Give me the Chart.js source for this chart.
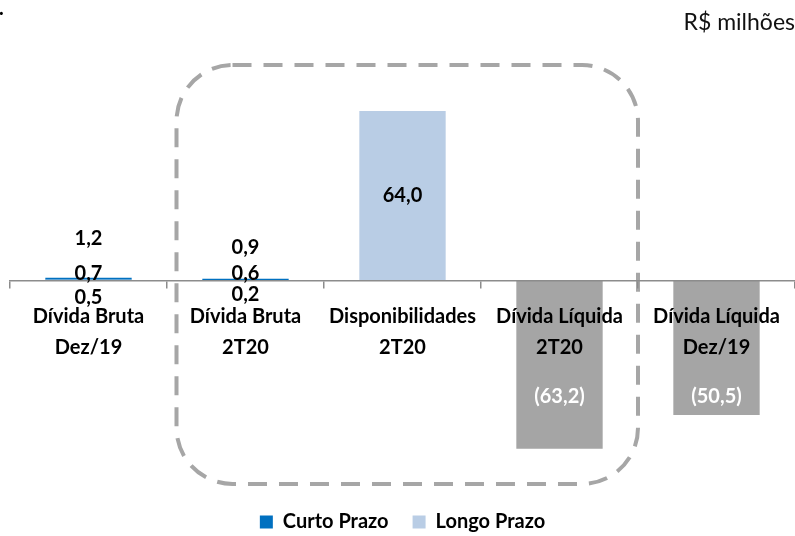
<!DOCTYPE html>
<html>
<head>
<meta charset="utf-8">
<script src="https://cdn.jsdelivr.net/npm/chart.js@4/dist/chart.umd.min.js"></script>
<style>
  html, body { margin: 0; padding: 0; background: #fff; }
  #wrap { width: 795px; height: 536px; position: relative; }
</style>
</head>
<body>
<div id="wrap"><canvas id="c"></canvas></div>
<script>
// ---- data ----
const categories = [
  ['Dívida Bruta', 'Dez/19'],
  ['Dívida Bruta', '2T20'],
  ['Disponibilidades', '2T20'],
  ['Dívida Líquida', '2T20'],
  ['Dívida Líquida', 'Dez/19']
];
const longoPrazo = [0.5, 0.24, 64.0, null, null];
const curtoPrazo = [0.7, 0.64, null, null, null];
const dividaLiquida = [null, null, null, -63.2, -50.5];
const unitLabel = 'R$ milhões';

// ---- styling ----
const FONT = 'Lato';
const C_LONGO = '#B9CDE5';
const C_CURTO = '#0070C0';
const C_GRAY = '#A5A5A5';
const AXIS_GRAY = '#8C8C8C';

const fmt = v => {
  const s = Math.abs(v).toFixed(1).replace('.', ',');
  return v < 0 ? '(' + s + ')' : s;
};

// label nudges (pixels) for the tiny stacked bars
const NUDGE = { total: [-39, -31], curto: [-4, -5], longo: [17, 14], negative: 116 };
// dashed frame around the 2T20 group
const FRAME = { fromCat: 1, toCat: 3, topVal: 81.3, bottomVal: -76.4, insetLeft: 9.5, insetRight: 0, radius: 56 };

const framePlugin = {
  id: 'frame',
  beforeDatasetsDraw(chart) {
    const {ctx, scales: {x, y}} = chart;
    const cw = x.getPixelForValue(1) - x.getPixelForValue(0);
    const l = x.getPixelForValue(FRAME.fromCat) - cw / 2 + FRAME.insetLeft;
    const r = x.getPixelForValue(FRAME.toCat) + cw / 2 - FRAME.insetRight;
    const t = y.getPixelForValue(FRAME.topVal);
    const b = y.getPixelForValue(FRAME.bottomVal);
    const rad = FRAME.radius;
    ctx.save();
    ctx.strokeStyle = '#A6A6A6';
    ctx.lineWidth = 4;
    ctx.setLineDash([19, 12]);
    ctx.beginPath();
    ctx.moveTo(l + rad, t);
    ctx.lineTo(r - rad, t);
    ctx.arcTo(r, t, r, t + rad, rad);
    ctx.lineTo(r, b - rad);
    ctx.arcTo(r, b, r - rad, b, rad);
    ctx.lineTo(l + rad, b);
    ctx.arcTo(l, b, l, b - rad, rad);
    ctx.lineTo(l, t + rad);
    ctx.arcTo(l, t, l + rad, t, rad);
    ctx.closePath();
    ctx.stroke();
    ctx.restore();
  }
};

const labelPlugin = {
  id: 'valueLabels',
  afterDraw(chart) {
    const {ctx, scales: {y}} = chart;
    const zero = y.getPixelForValue(0);
    ctx.save();
    ctx.font = 'bold 20px ' + FONT;
    ctx.textAlign = 'center';
    ctx.textBaseline = 'middle';
    const m0 = chart.getDatasetMeta(0);
    const m1 = chart.getDatasetMeta(1);
    const m2 = chart.getDatasetMeta(2);
    categories.forEach((c, i) => {
      const lv = longoPrazo[i], cv = curtoPrazo[i], nv = dividaLiquida[i];
      ctx.fillStyle = '#000';
      if (lv != null && cv != null) {
        const top = m1.data[i];
        ctx.fillText(fmt(lv + cv), top.x, top.y + NUDGE.total[i]);
        ctx.fillText(fmt(cv), top.x, top.y + NUDGE.curto[i]);
        ctx.fillText(fmt(lv), m0.data[i].x, zero + NUDGE.longo[i]);
      } else if (lv != null) {
        const el = m0.data[i];
        ctx.fillText(fmt(lv), el.x, (el.y + el.base) / 2);
      }
      if (nv != null) {
        const el = m2.data[i];
        ctx.fillStyle = '#fff';
        ctx.fillText(fmt(nv), el.x, zero + NUDGE.negative);
      }
    });
    // stray mark at the top-left of the original
    ctx.fillStyle = '#000';
    ctx.textAlign = 'left';
    ctx.textBaseline = 'alphabetic';
    ctx.fillText('.', -1, 15);
    ctx.restore();
  }
};

new Chart(document.getElementById('c'), {
  type: 'bar',
  data: {
    labels: categories,
    datasets: [
      { label: 'Longo Prazo', data: longoPrazo, backgroundColor: C_LONGO },
      { label: 'Curto Prazo', data: curtoPrazo, backgroundColor: C_CURTO },
      { label: 'Dívida Líquida', data: dividaLiquida, backgroundColor: C_GRAY }
    ]
  },
  options: {
    responsive: true,
    maintainAspectRatio: false,
    animation: false,
    devicePixelRatio: 1,
    layout: { padding: { left: 10, right: 0, top: 0, bottom: -6 } },
    datasets: { bar: { barPercentage: 0.55, categoryPercentage: 1, borderWidth: 0 } },
    scales: {
      x: {
        stacked: true,
        position: { y: 0 },
        afterFit(s) { s.height = 0; },
        grid: { drawOnChartArea: false, drawTicks: true, tickLength: 7, color: AXIS_GRAY, lineWidth: 1.5, offset: true, z: 1 },
        border: { color: AXIS_GRAY, width: 1.5, z: 1 },
        ticks: {
          z: 2,
          color: '#000',
          padding: 13,
          maxRotation: 0,
          autoSkip: false,
          font: { family: FONT, size: 20, weight: 'bold', lineHeight: 31 / 20 }
        }
      },
      y: {
        stacked: true,
        display: false,
        min: -77.94,
        max: 89.76
      }
    },
    plugins: {
      title: {
        display: true,
        text: unitLabel,
        align: 'end',
        color: '#111',
        font: { family: FONT, size: 23, weight: 'normal', lineHeight: 1.2 },
        padding: { top: 9, bottom: 6 }
      },
      legend: {
        position: 'bottom',
        reverse: true,
        labels: {
          filter: item => item.datasetIndex !== 2,
          boxWidth: 13,
          boxHeight: 13,
          padding: 24,
          color: '#000',
          font: { family: FONT, size: 20, weight: 'bold' }
        }
      },
      tooltip: { enabled: false }
    }
  },
  plugins: [framePlugin, labelPlugin]
});
</script>
</body>
</html>
